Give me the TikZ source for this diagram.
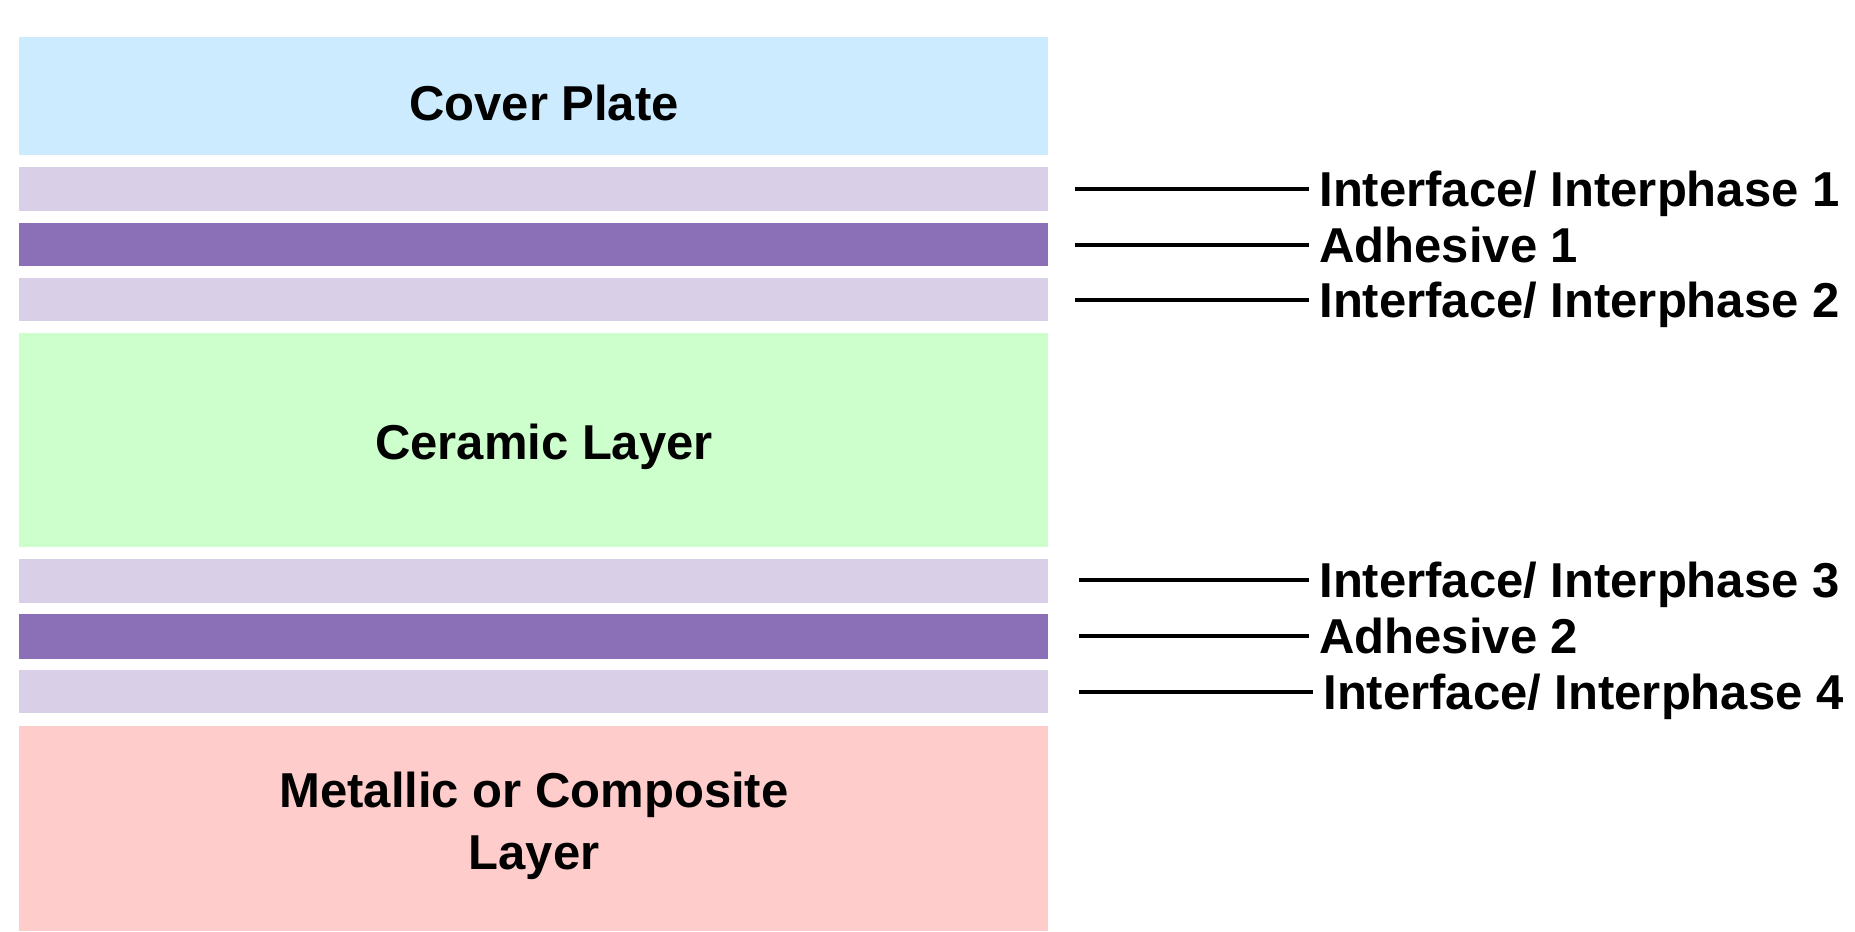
\documentclass[tikz,border=0pt]{standalone}
\usepackage{fontspec}
\setmainfont{Liberation Sans}
\definecolor{coverc}{HTML}{CCEBFF}
\definecolor{interc}{HTML}{D9CFE7}
\definecolor{adhc}{HTML}{8B6FB7}
\definecolor{ceramc}{HTML}{CCFFCC}
\definecolor{metalc}{HTML}{FFCCCC}
\begin{document}
\begin{tikzpicture}[x=0.5pt,y=-0.5pt,
  layer/.style={draw=none, minimum width=514.5pt, inner sep=0pt, outer sep=0pt},
  title/.style={inner sep=0pt, align=center, font=\bfseries\fontsize{24.5}{31}\selectfont},
  lbl/.style={anchor=west, inner sep=0pt, text height=17.5pt, text depth=0pt, font=\bfseries\fontsize{24.5}{31}\selectfont},
  leader/.style={line width=1.8pt, draw=black, shorten >=5pt}
]
\useasboundingbox (0,0) rectangle (1855,931);
% layers
\node[layer, fill=coverc,  minimum height=59pt]   (cover) at (533.5,96) {};
\node[layer, fill=interc,  minimum height=22pt]   (int1)  at (533.5,189) {};
\node[layer, fill=adhc,    minimum height=21.5pt] (adh1)  at (533.5,244.5) {};
\node[layer, fill=interc,  minimum height=21.5pt] (int2)  at (533.5,299.5) {};
\node[layer, fill=ceramc,  minimum height=107pt]  (ceram) at (533.5,440) {};
\node[layer, fill=interc,  minimum height=22pt]   (int3)  at (533.5,581) {};
\node[layer, fill=adhc,    minimum height=22.5pt] (adh2)  at (533.5,636.5) {};
\node[layer, fill=interc,  minimum height=21.5pt] (int4)  at (533.5,691.5) {};
\node[layer, fill=metalc,  minimum height=102.5pt](metal) at (533.5,828.5) {};
% titles
\node[title] (covert) at (544,103) {Cover Plate};
\node[title] (ceramt) at (544,447) {Ceramic Layer};
\node[title] (metalt) at (534,826) {Metallic or Composite\\Layer};
% labels
\node[lbl] (l1) at (1319,189) {Interface/ Interphase 1};
\node[lbl] (l2) at (1319,245) {Adhesive 1};
\node[lbl] (l3) at (1319,300) {Interface/ Interphase 2};
\node[lbl] (l4) at (1319,580) {Interface/ Interphase 3};
\node[lbl] (l5) at (1319,636) {Adhesive 2};
\node[lbl] (l6) at (1323,692) {Interface/ Interphase 4};
% leader start points
\coordinate (c1) at (1075,189);
\coordinate (c2) at (1075,245);
\coordinate (c3) at (1075,300);
\coordinate (c4) at (1079,580);
\coordinate (c5) at (1079,636);
\coordinate (c6) at (1079,692);
\draw[leader] (c1) -- (l1.west);
\draw[leader] (c2) -- (l2.west);
\draw[leader] (c3) -- (l3.west);
\draw[leader] (c4) -- (l4.west);
\draw[leader] (c5) -- (l5.west);
\draw[leader] (c6) -- (l6.west);
\end{tikzpicture}
\end{document}
